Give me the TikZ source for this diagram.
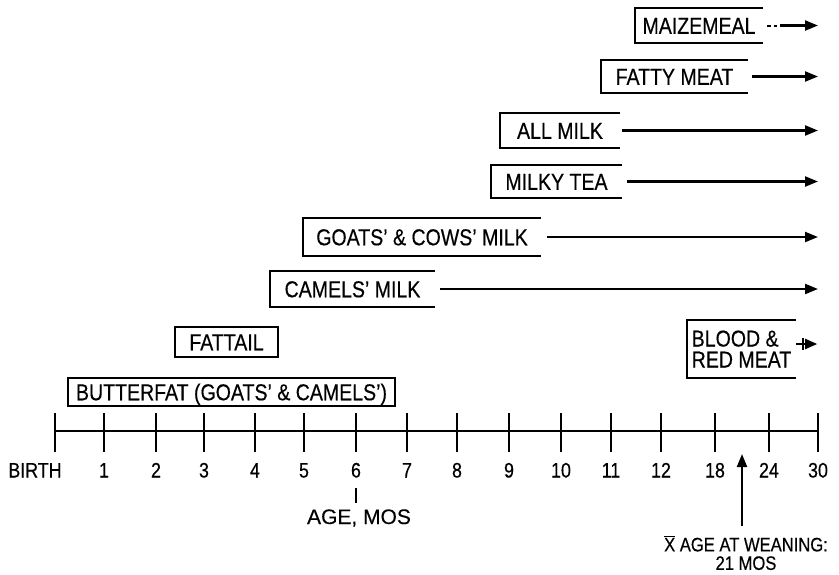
\documentclass[tikz,border=0pt]{standalone}
\usepackage{fontspec}
\setmainfont{Liberation Sans}[FakeStretch=0.85, FakeBold=0.4]
\newfontfamily\widefont{Liberation Sans}[FakeBold=0.3]
\usetikzlibrary{arrows.meta}

\tikzset{
  food/.style={inner sep=0pt, text height=16.5pt, text depth=0pt, font=\fontsize{23}{21}\selectfont},
  axislab/.style={inner sep=0pt, text height=15pt, text depth=0pt, font=\fontsize{21}{21}\selectfont},
  openbox/.style={line width=2.4pt},
  shut/.style={draw, line width=2.2pt},
  feed/.style={line width=2.2pt, -{Triangle[length=13pt,width=10pt]}},
  axistick/.style={line width=2.2pt},
  axisline/.style={line width=2.8pt}
}

\begin{document}
\begin{tikzpicture}[x=1pt,y=-1pt]
    \useasboundingbox (0,0) rectangle (839,574);
    \coordinate (tip) at (818,0);

    % foods that are kept on
    \node[food, minimum width=128pt, minimum height=35pt] (maize) at (699,25.5) {MAIZEMEAL};
    \node[food, minimum width=147pt, minimum height=33pt] (fatty) at (674.5,76.5) {FATTY MEAT};
    \node[food, minimum width=120pt, minimum height=35pt] (allmilk) at (560,130.5) {ALL MILK};
    \node[food, minimum width=131pt, minimum height=33pt] (tea) at (556.5,181.5) {MILKY TEA};
    \node[food, minimum width=238pt, minimum height=38pt] (goats) at (422,237) {GOATS' \& COWS' MILK};
    \node[food, minimum width=165pt, minimum height=36pt] (camels) at (352.5,289) {CAMELS' MILK};
    \node[food, text height=, text depth=, align=left, minimum width=109pt, minimum height=58pt]
        (blood) at (741.5,349) {BLOOD \&\\RED MEAT};

    \foreach \b in {maize,fatty,allmilk,tea,goats,camels,blood}
        \draw[openbox] (\b.north east) -- (\b.north west) -- (\b.south west) -- (\b.south east);

    % foods given for a while only
    \node[food, shut, minimum width=103pt, minimum height=30pt] (fattail) at (226.5,342) {FATTAIL};
    \node[food, shut, minimum width=327pt, minimum height=28pt] (butter) at (231.5,392) {BUTTERFAT (GOATS' \& CAMELS')};

    \draw[line width=2pt, dash pattern=on 4pt off 2.5pt] ([xshift=4pt]maize.east) -- ([xshift=14pt]maize.east);
    \draw[feed] ([xshift=17pt]maize.east) -- (maize.east -| tip);
    \draw[feed] ([xshift=4pt]fatty.east) -- (fatty.east -| tip);
    \draw[feed] ([xshift=2pt]allmilk.east) -- (allmilk.east -| tip);
    \draw[feed] ([xshift=5pt]tea.east) -- (tea.east -| tip);
    \draw[feed] ([xshift=6pt]goats.east) -- (goats.east -| tip);
    \draw[feed] ([xshift=5pt]camels.east) -- (camels.east -| tip);
    \draw[line width=2pt, -{Bar[width=12pt,sep=1.5pt] Triangle[length=12pt,width=10pt]}]
        ([xshift=0pt,yshift=5pt]blood.east) -- ([xshift=21pt,yshift=5pt]blood.east);

    % age axis
    \foreach \x/\lab [count=\i from 0] in {55/,104/1,156/2,204/3,255/4,304/5,356/6,407/7,
            457/8,509/9,561/10,611/11,661/12,715/18,769/24,818/30}{
        \coordinate (t\i) at (\x,431);
        \draw[axistick] (\x,413) -- (\x,452);
        \node[axislab] (l\i) at (\x,470) {\lab};
    }
    \draw[axisline] (t0) -- (t15);
    \node[axislab] (birth) at (35,470) {BIRTH};

    \node[axislab, text height=14pt, font=\widefont\fontsize{21}{21}\selectfont] (age) at (359,517) {AGE, MOS};
    \draw[axistick] ([yshift=-10pt]l6.south) -- ([yshift=7pt]l6.south |- age.north);

    % mean weaning age
    \coordinate (w21) at (742,454);
    \coordinate (wbase) at (742,526);
    \node[axislab, text height=, text depth=, align=center, font=\fontsize{19.5}{18.5}\selectfont]
        (wean) at (746,553) {$\overline{\mbox{X}}$ AGE AT WEANING:\\21 MOS};
    \draw[feed] (wbase) -- (w21);
\end{tikzpicture}
\end{document}
